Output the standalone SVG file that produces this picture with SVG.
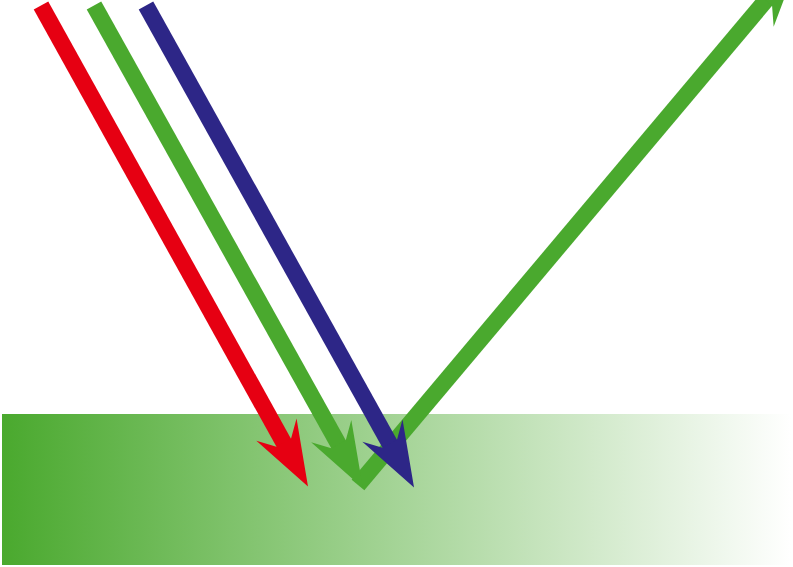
<svg xmlns="http://www.w3.org/2000/svg" width="793" height="567" viewBox="0 0 793 567">
  <defs>
    <linearGradient id="surface" x1="0" y1="0" x2="1" y2="0">
      <stop offset="0" stop-color="#4aa92e"/>
      <stop offset="1" stop-color="#ffffff"/>
    </linearGradient>
    <marker id="ah-red" markerUnits="userSpaceOnUse" viewBox="-66 -24 68 48" markerWidth="68" markerHeight="48" refX="-48" refY="0" orient="auto" overflow="visible">
      <path d="M0,0 L-65,-23 L-50,-8.3 L-50,8.3 L-65,23 Z" fill="#e60012"/>
    </marker>
    <marker id="ah-green" markerUnits="userSpaceOnUse" viewBox="-66 -24 68 48" markerWidth="68" markerHeight="48" refX="-48" refY="0" orient="auto" overflow="visible">
      <path d="M0,0 L-65,-23 L-50,-8.3 L-50,8.3 L-65,23 Z" fill="#4aa92e"/>
    </marker>
    <marker id="ah-blue" markerUnits="userSpaceOnUse" viewBox="-66 -24 68 48" markerWidth="68" markerHeight="48" refX="-48" refY="0" orient="auto" overflow="visible">
      <path d="M0,0 L-65,-23 L-50,-8.3 L-50,8.3 L-65,23 Z" fill="#2d2687"/>
    </marker>
  </defs>
  <style>
    .ray { fill: none; stroke-width: 16.6; stroke-linecap: butt; }
    .red { stroke: #e60012; marker-end: url(#ah-red); }
    .green { stroke: #4aa92e; marker-end: url(#ah-green); }
    .blue { stroke: #2d2687; marker-end: url(#ah-blue); }
  </style>
  <g id="surface-block">
    <rect x="2" y="414" width="789" height="151" fill="url(#surface)"/>
  </g>
  <g id="connectors">
    <path id="reflected-green" class="ray green" d="M358,485 L767,-1"/>
    <path id="incident-red" class="ray red" d="M41,5.5 L284.7,444.5"/>
    <path id="incident-green" class="ray green" d="M94,5.5 L339.5,446"/>
    <path id="incident-blue" class="ray blue" d="M146,5.5 L390.7,445.5"/>
  </g>
</svg>
